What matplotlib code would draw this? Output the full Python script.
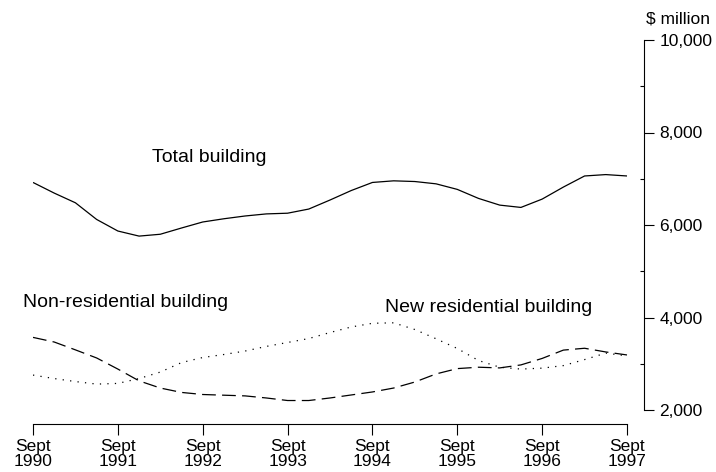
import matplotlib
matplotlib.use("Agg")
import matplotlib.pyplot as plt
import numpy as np
from matplotlib.ticker import FixedLocator, FuncFormatter

plt.rcParams['font.family'] = ['Liberation Sans', 'DejaVu Sans']

# Quarterly data, Sept 1990 .. Sept 1997 ($ million)
quarters = [1990.75 + 0.25 * i for i in range(29)]
total_building = [6920, 6690, 6480, 6120, 5870, 5760, 5800, 5935, 6065, 6135,
                  6195, 6240, 6255, 6345, 6540, 6745, 6920, 6955, 6940, 6890,
                  6770, 6575, 6430, 6380, 6560, 6820, 7060, 7090, 7060]
non_residential = [3570, 3470, 3300, 3125, 2885, 2630, 2475, 2380, 2335, 2320,
                   2305, 2260, 2205, 2205, 2260, 2325, 2390, 2475, 2605, 2780,
                   2895, 2925, 2910, 2975, 3115, 3295, 3335, 3255, 3190]
new_residential = [2755, 2680, 2615, 2560, 2575, 2680, 2820, 3025, 3135, 3200,
                   3275, 3375, 3460, 3545, 3675, 3795, 3875, 3885, 3740, 3540,
                   3330, 3070, 2925, 2885, 2905, 2960, 3090, 3230, 3170]

x_tick_years = [1990.75 + i for i in range(8)]
x_tick_labels = ["Sept\n%d" % (1990 + i) for i in range(8)]
y_major = [2000, 4000, 6000, 8000, 10000]
y_minor = [3000, 5000, 7000, 9000]

fig = plt.figure(figsize=(7.16, 4.72), dpi=100)
ax = fig.add_axes([33/716, 1 - 424/472, (644 - 33)/716, (424 - 40)/472])

# pixel mapping: 1990.75 -> 33px, 1997.75 -> 627px ; 2000 -> 410px, 10000 -> 40px
px_per_year = (627 - 33) / 7.0
px_per_unit = (410 - 40) / 8000.0
ax.set_xlim(1990.75, 1990.75 + (644 - 33) / px_per_year)
ax.set_ylim(2000 - (424 - 410) / px_per_unit, 10000)

lw = 0.9
ax.plot(quarters, total_building, color='black', lw=lw, solid_capstyle='butt')
ax.plot(quarters, non_residential, color='black', lw=lw, linestyle=(0, (11, 5)))
ax.plot(quarters, new_residential, color='black', lw=lw, linestyle=(0, (1, 5)))

for s in ['top', 'left']:
    ax.spines[s].set_visible(False)
ax.spines['bottom'].set_bounds(quarters[0], quarters[-1])
ax.spines['right'].set_bounds(2000, 10000)
for s in ['bottom', 'right']:
    ax.spines[s].set_linewidth(0.8)

ax.yaxis.tick_right()
ax.set_xticks(x_tick_years)
ax.set_xticklabels(x_tick_labels, fontsize=12.5, linespacing=0.95)
ax.tick_params(axis='x', direction='out', length=8, width=0.8, pad=3)

ax.yaxis.set_major_locator(FixedLocator(y_major))
ax.yaxis.set_minor_locator(FixedLocator(y_minor))
ax.yaxis.set_major_formatter(FuncFormatter(lambda v, p: "{:,.0f}".format(v)))
ax.tick_params(axis='y', which='major', direction='out', length=7, width=0.8,
               labelsize=12.5, pad=4)
ax.tick_params(axis='y', which='minor', direction='in', length=3, width=0.8)

ax.text(1.004, 1.035, "$ million", transform=ax.transAxes, fontsize=12.5,
        ha='left', va='bottom')

ax.text(1992.15, 7470, "Total building", fontsize=14, ha='left', va='center')
ax.text(1990.63, 4314, "Non-residential building", fontsize=14, ha='left', va='center')
ax.text(1994.90, 4227, "New residential building", fontsize=14, ha='left', va='center')

fig.savefig("out.png", dpi=100)
